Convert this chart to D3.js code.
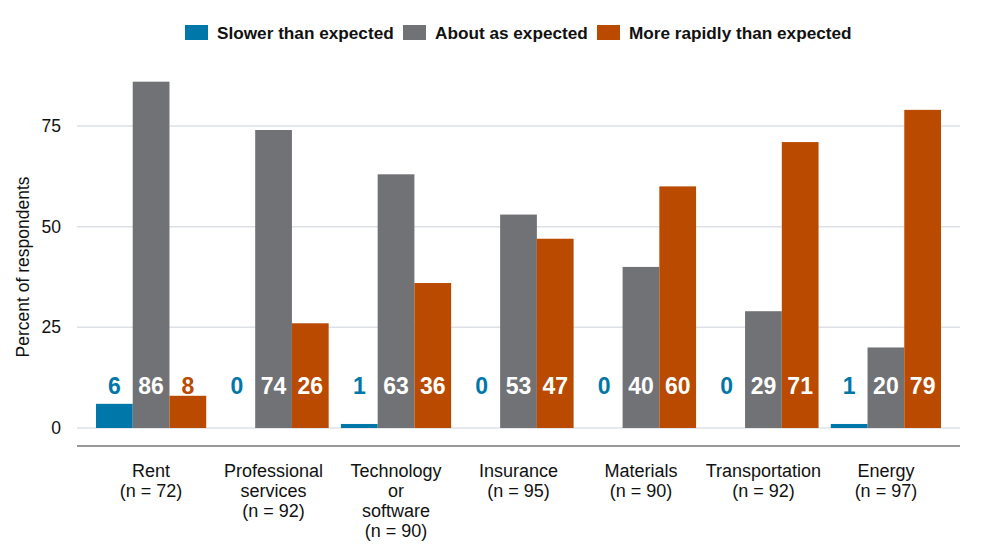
<!DOCTYPE html>
<html>
<head>
<meta charset="utf-8">
<script src="https://cdn.jsdelivr.net/npm/d3@7"></script>
<style>
  body { margin: 0; background: #fff; }
  svg { font-family: 'Liberation Sans', Arial, sans-serif; }
</style>
</head>
<body>
<div id="chart"></div>
<script>
const categories = [
  ['Rent', '(n = 72)'],
  ['Professional', 'services', '(n = 92)'],
  ['Technology', 'or', 'software', '(n = 90)'],
  ['Insurance', '(n = 95)'],
  ['Materials', '(n = 90)'],
  ['Transportation', '(n = 92)'],
  ['Energy', '(n = 97)']
]
const seriesNames = ['Slower than expected', 'About as expected', 'More rapidly than expected']
const slower = [6, 0, 1, 0, 0, 0, 1]
const aboutAs = [86, 74, 63, 53, 40, 29, 20]
const moreRapidly = [8, 26, 36, 47, 60, 71, 79]
const yTicks = [0, 25, 50, 75]
const colors = ['#0077a9', '#717275', '#b94a00']

const width = 991
const height = 557
const margin = { top: 25, right: 31, bottom: 111, left: 77 }

const svg = d3.select('#chart').append('svg').attr('width', width).attr('height', height)

const series = [slower, aboutAs, moreRapidly]
const rows = categories.map((c, i) => ({ key: c.join(' '), lines: c, values: series.map((s) => s[i]) }))

const x = d3
  .scaleBand()
  .domain(rows.map((d) => d.key))
  .range([margin.left, width - margin.right])
  .paddingInner(0.1)
  .paddingOuter(0.155)

const x1 = d3.scaleBand().domain(d3.range(3)).range([0, x.bandwidth()])

const y = d3.scaleLinear().domain([0, 100]).range([428, 25.3])

// grid
svg
  .append('g')
  .selectAll('line')
  .data(yTicks)
  .join('line')
  .attr('x1', margin.left)
  .attr('x2', width - margin.right)
  .attr('y1', (d) => y(d))
  .attr('y2', (d) => y(d))
  .attr('stroke', '#dde1e7')
  .attr('stroke-width', 1.5)

// y axis tick labels
const yAxis = svg
  .append('g')
  .attr('transform', `translate(${margin.left - 16},0)`)
  .call(d3.axisLeft(y).tickValues(yTicks).tickSize(0).tickPadding(0))
yAxis.select('.domain').remove()
yAxis
  .selectAll('text')
  .attr('font-size', 17.5)
  .attr('fill', '#111')
  .attr('font-family', 'Liberation Sans, Arial, sans-serif')

svg
  .append('text')
  .attr('transform', `translate(29,${y(40)}) rotate(-90)`)
  .attr('text-anchor', 'middle')
  .attr('font-size', 17.5)
  .attr('fill', '#111')
  .text('Percent of respondents')

// bars
const groups = svg
  .append('g')
  .selectAll('g')
  .data(rows)
  .join('g')
  .attr('transform', (d) => `translate(${x(d.key)},0)`)

groups
  .selectAll('rect')
  .data((d) => d.values.map((v, i) => ({ v, i })))
  .join('rect')
  .attr('x', (d) => x1(d.i))
  .attr('width', x1.bandwidth())
  .attr('y', (d) => y(d.v))
  .attr('height', (d) => y(0) - y(d.v))
  .attr('fill', (d) => colors[d.i])

groups
  .selectAll('text.val')
  .data((d) => d.values.map((v, i) => ({ v, i })))
  .join('text')
  .attr('class', 'val')
  .attr('x', (d) => x1(d.i) + x1.bandwidth() / 2)
  .attr('y', 393.5)
  .attr('text-anchor', 'middle')
  .attr('font-size', 23)
  .attr('font-weight', 'bold')
  .attr('fill', (d) => (d.v >= 12 ? '#fff' : colors[d.i]))
  .text((d) => d.v)

// x axis line
svg
  .append('line')
  .attr('x1', margin.left)
  .attr('x2', width - margin.right)
  .attr('y1', 446)
  .attr('y2', 446)
  .attr('stroke', '#9a9a9a')
  .attr('stroke-width', 2)

// category labels
const catText = svg
  .append('g')
  .selectAll('text')
  .data(rows)
  .join('text')
  .attr('x', (d) => x(d.key) + x.bandwidth() / 2)
  .attr('y', 477)
  .attr('text-anchor', 'middle')
  .attr('font-size', 18)
  .attr('fill', '#111')

catText
  .selectAll('tspan')
  .data((d) => d.lines)
  .join('tspan')
  .attr('x', function () {
    return d3.select(this.parentNode).attr('x')
  })
  .attr('dy', (d, i) => (i === 0 ? 0 : 20))
  .text((d) => d)

// legend
const legend = svg.append('g').attr('font-size', 17.2).attr('font-weight', 'bold')
const legendX = [185, 403, 597]
seriesNames.forEach((name, i) => {
  legend
    .append('rect')
    .attr('x', legendX[i])
    .attr('y', 25)
    .attr('width', 23)
    .attr('height', 15)
    .attr('fill', colors[i])
  legend
    .append('text')
    .attr('x', legendX[i] + 32)
    .attr('y', 39)
    .attr('fill', '#111')
    .text(name)
})
</script>
</body>
</html>
